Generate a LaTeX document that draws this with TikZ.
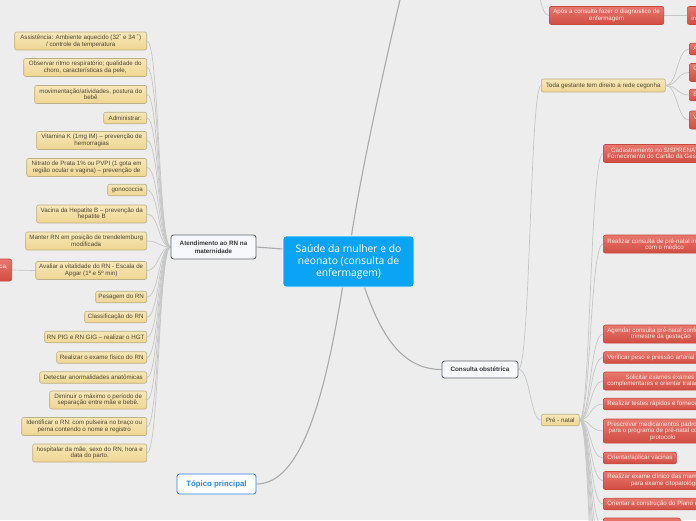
\documentclass[tikz,border=0pt]{standalone}
\usepackage{fontspec}
\setmainfont{Liberation Sans}
\newfontfamily\ctrfont{Open Sans}
\definecolor{bgcol}{HTML}{EDEDED}
\definecolor{tantop}{HTML}{F7E8B8}
\definecolor{tanbot}{HTML}{EED592}
\definecolor{tanline}{HTML}{BDAF88}
\definecolor{tantext}{HTML}{4F4634}
\definecolor{redtop}{HTML}{E9776D}
\definecolor{redbot}{HTML}{D04D43}
\definecolor{redline}{HTML}{C9473E}
\definecolor{redtext}{HTML}{FDE8E5}
\definecolor{ctrfill}{HTML}{0BA3F4}
\definecolor{conncol}{HTML}{C6C6C6}
\definecolor{maincol}{HTML}{A9A9A9}
\definecolor{subfill}{HTML}{F6F8FB}
\definecolor{subline}{HTML}{5E646C}
\definecolor{subtext}{HTML}{3A3A3A}
\definecolor{topicblue}{HTML}{2B84E0}
\pgfdeclarelayer{back}
\pgfdeclarelayer{bg}
\pgfsetlayers{back,bg,main}
\begin{document}
\begin{tikzpicture}[x=1pt,y=-1pt,
  tan/.style={draw=tanline, top color=tantop, bottom color=tanbot, rounded corners=2pt, line width=0.6pt,
    font=\fontsize{6.2}{6.5}\selectfont, text=tantext, align=center, inner xsep=2pt, inner ysep=2pt},
  tanL/.style={tan, anchor=east},
  h1/.style={minimum height=11.5pt},
  h2/.style={minimum height=18pt},
  h3/.style={minimum height=24pt},
  redbox/.style={draw=redline, top color=redtop, bottom color=redbot, rounded corners=2pt, line width=0.6pt,
    font=\fontsize{6.2}{6.5}\selectfont, text=redtext, align=center, inner xsep=4pt, inner ysep=2.4pt, anchor=west},
  subbox/.style={draw=subline, fill=subfill, line width=0.8pt, rounded corners=2.5pt,
    font=\bfseries\fontsize{6.3}{7.5}\selectfont, text=subtext, align=center},
  conn/.style={draw=conncol, line width=0.7pt},
  mainc/.style={draw=maincol, line width=1.1pt}
]
\useasboundingbox (0,0) rectangle (696,520);
\begin{pgfonlayer}{back}
\fill[bgcol] (0,0) rectangle (696,520);
\end{pgfonlayer}

% central
\node[fill=ctrfill, draw=white, line width=0.8pt, rounded corners=3pt, minimum width=131pt, minimum height=51pt,
  text=white, font=\ctrfont\fontsize{10.3}{12}\selectfont, align=center] (ctr) at (348.5,261.5)
  {Saúde da mulher e do\\neonato (consulta de\\enfermagem)};

\node[subbox, minimum width=85pt, minimum height=24pt] (att) at (213.5,247) {Atendimento ao RN na\\maternidade};
\node[subbox, minimum width=76pt, minimum height=17pt] (co) at (480,369.5) {Consulta obstétrica};
\node[draw=topicblue, fill=white, line width=0.8pt, rounded corners=2.5pt, minimum width=79pt, minimum height=20pt,
  text=topicblue, font=\bfseries\fontsize{7.8}{9}\selectfont] (topic) at (216.5,484) {Tópico principal};

% left column
\node[tanL,h2,minimum width=132pt] (n1) at (147,41) {Assistência: Ambiente aquecido (32˚ e 34 ˚)\\/ controle da temperatura};
\node[tanL,h2,minimum width=123pt] (n2) at (147,67.5) {Observar ritmo respiratório; qualidade do\\choro, características da pele,};
\node[tanL,h2,minimum width=112pt] (n3) at (147,94.5) {movimentação/atividades, postura do\\bebê};
\node[tanL,h1,minimum width=43pt] (n4) at (147,118) {Administrar:};
\node[tanL,h2,minimum width=110pt] (n5) at (147,140.5) {Vitamina K (1mg IM) – prevenção de\\hemorragias};
\node[tanL,h2,minimum width=120pt] (n6) at (147,167.5) {Nitrato de Prata 1\% ou PVPI (1 gota em\\região ocular e vagina) – prevenção de};
\node[tanL,h1,minimum width=39pt] (n7) at (147,190) {gonococcia};
\node[tanL,h2,minimum width=110pt] (n8) at (147,214) {Vacina da Hepatite B – prevenção da\\hepatite B};
\node[tanL,h2,minimum width=121pt] (n9) at (147,241) {Manter RN em posição de trendelemburg\\modificada};
\node[tanL,h2,minimum width=111pt] (n10) at (147,270.5) {Avaliar a vitalidade do RN - Escala de\\Apgar (1º e 5º min)};
\node[tanL,h1,minimum width=51pt] (n11) at (147,297) {Pesagem do RN};
\node[tanL,h1,minimum width=62pt] (n12) at (147,317) {Classificação do RN};
\node[tanL,h1,minimum width=102pt] (n13) at (147,337) {RN PIG e RN GIG – realizar o HGT};
\node[tanL,h1,minimum width=90pt] (n14) at (147,357.5) {Realizar o exame físico do RN};
\node[tanL,h1,minimum width=107pt] (n15) at (147,377.5) {Detectar anormalidades anatômicas};
\node[tanL,h2,minimum width=97pt] (n16) at (147,400) {Diminuir o máximo o período de\\separação entre mãe e bebê.};
\node[tanL,h2,minimum width=125pt] (n17) at (147,426.5) {Identificar o RN: com pulseira no braço ou\\perna contendo o nome e registro};
\node[tanL,h2,minimum width=114pt] (n18) at (147,453) {hospitalar da mãe, sexo do RN, hora e\\data do parto.};

\node[redbox,anchor=east,minimum height=22pt] (pl) at (12,270) {Assistência imediata: estimulação tátil e mecânica,\\aspiração de vias aéreas};

% right side
\node[redbox,h2,minimum width=114pt] (apos) at (549,15.5) {Após a consulta fazer o diagnostico de\\enfermagem};
\node[tan,anchor=west,minimum width=124pt,minimum height=13pt] (tg) at (541,85.5) {Toda gestante tem direito a rede cegonha};
\node[tan,anchor=west,h1,minimum width=38pt] (pn) at (541,420) {Pré - natal};

\node[redbox,h2] (p0) at (687,15.5) {Planejar as\\intervenções de enfermagem};
\node[redbox,h1] (p1) at (689,49) {Acolhimento com classificação de risco};
\node[redbox,h2] (p2) at (689,72.5) {Classificação de risco e\\vinculação};
\node[redbox,h1] (p3) at (689,95) {Exames de pré-natal};
\node[redbox,h2] (p4) at (689,120) {Vinculação da gestante à\\maternidade};

\node[redbox,h2] (r1) at (603,153.5) {Cadastramento no SISPRENATAL\\Fornecimento do Cartão da Gestante};
\node[redbox,h2] (r2) at (603,244) {Realizar consulta de pré-natal intercalada\\com o médico};
\node[redbox,h2] (r3) at (603,334) {Agendar consulta pré-natal conforme o\\trimestre da gestação};
\node[redbox,h1] (r4) at (603,357.5) {Verificar peso e pressão arterial};
\node[redbox,h2] (r5) at (603,381) {Solicitar exames exames\\complementares e orientar tratamento};
\node[redbox,h1] (r6) at (603,404) {Realizar testes rápidos e fornecer preservativos};
\node[redbox,h3] (r7) at (603,431) {Prescrever medicamentos padronizados\\para o programa de pré-natal conforme\\protocolo};
\node[redbox,h1] (r8) at (603,458) {Orientar/aplicar vacinas};
\node[redbox,h2] (r9) at (603,480.5) {Realizar exame clínico das mamas e coleta\\para exame citopatológico};
\node[redbox,h1] (r10) at (603,504) {Orientar a construção do Plano de parto};
\node[redbox,h2,minimum width=77pt] (r11) at (603,527) {};

\coordinate (up) at (412,-50);
\coordinate (apar) at (536,-40);
\coordinate (pc1) at (603,548);
\coordinate (pc2) at (603,572);
\coordinate (pc3) at (603,600);
\coordinate (pc4) at (603,640);
\coordinate (pc5) at (603,690);

\begin{pgfonlayer}{bg}
\draw[mainc] (att.east) -- ([yshift=12.5pt]ctr.west);
\draw[mainc] ([xshift=-6pt]ctr.south) .. controls +(-18,113) and +(44,0) .. (topic.east);
\draw[mainc] ([xshift=16pt]ctr.south) .. controls +(15,43) and +(-42,0) .. (co.west);
\draw[mainc] ([xshift=3pt]ctr.north) .. controls +(12,-80) and +(-15,60) .. (up);
\foreach \i in {1,...,18} \draw[conn] (att.west) .. controls +(-12,0) and +(12,0) .. (n\i.east);
\draw[conn] (pl.east) -- (n10.west);
\draw[conn] (co.east) .. controls +(12,0) and +(-11,0) .. (tg.west);
\draw[conn] (co.east) .. controls +(12,0) and +(-11,0) .. (pn.west);
\draw[conn] (apar) .. controls +(2,30) and +(-8,0) .. (apos.west);
\draw[conn, line width=1pt] (apos.east) -- (p0.west);
\foreach \i in {1,...,4} \draw[conn] (tg.east) .. controls +(12,0) and +(-12,0) .. (p\i.west);
\foreach \i in {1,...,11} \draw[conn] (pn.east) .. controls +(11,0) and +(-13,0) .. (r\i.west);
\foreach \i in {1,...,5} \draw[conn] (pn.east) .. controls +(11,0) and +(-13,0) .. (pc\i);
\end{pgfonlayer}
\end{tikzpicture}
\end{document}
